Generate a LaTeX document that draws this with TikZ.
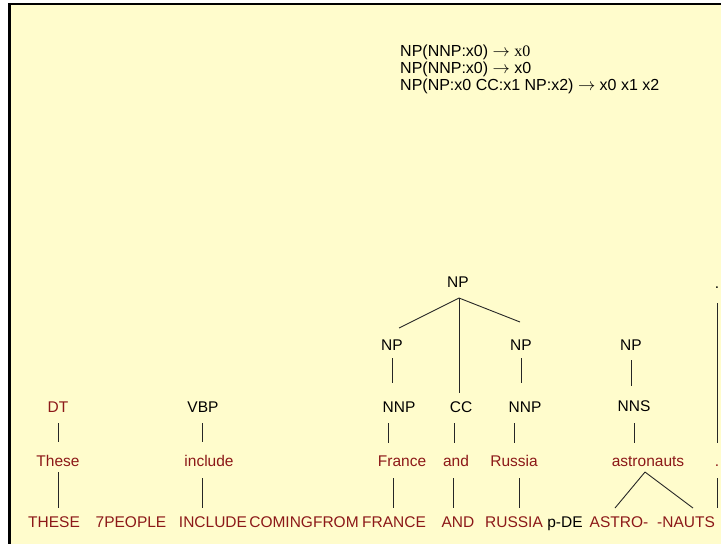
\documentclass[tikz,border=0pt]{standalone}
\usepackage{fontspec}
\setmainfont{Liberation Sans}
\newfontfamily\serifx{Liberation Serif}
\usetikzlibrary{calc}
\definecolor{paper}{RGB}{255,252,204}
\definecolor{wordred}{RGB}{140,24,24}
\begin{document}
\begin{tikzpicture}[x=1pt,y=-1pt,
  lbl/.style={anchor=base,inner sep=0pt,font=\fontsize{15.5}{18}\selectfont},
  tag/.style={lbl,text=black},
  word/.style={lbl,text=wordred},
  rule/.style={anchor=base west,inner sep=0pt,font=\fontsize{16}{18}\selectfont},
  edge/.style={draw=black!85,line width=0.9pt}]
\useasboundingbox (0,0) rectangle (721,544);
\clip (0,0) rectangle (721,544);
\fill[white] (0,0) rectangle (721,544);
\draw[fill=paper,line width=2.6pt] (9.5,4) rectangle (760,580);

% transfer rules
\node[rule] (rule1) at (400,56.5) {NP(NNP:x0) $\rightarrow$ {\serifx x0}};
\node[rule] (rule2) at (400,73) {NP(NNP:x0) $\rightarrow$ x0};
\node[rule] (rule3) at (400,90) {NP(NP:x0 CC:x1 NP:x2) $\rightarrow$ x0 x1 x2};

% phrase structure
\node[tag] (npT) at (458,287.5) {NP};
\node[tag] (npL) at (392,350.5) {NP};
\node[tag] (npR) at (521,350.5) {NP};
\node[tag] (npA) at (631,350) {NP};
\node[tag] (dotT) at (717,288) {.};

% part-of-speech tags
\node[word] (dt) at (58,412.5) {DT};
\node[tag] (vbp) at (203,412.5) {VBP};
\node[tag] (nnpL) at (399,412.5) {NNP};
\node[tag] (cc) at (461,412.5) {CC};
\node[tag] (nnpR) at (525,412.5) {NNP};
\node[tag] (nns) at (634,411.5) {NNS};

% source words
\node[word] (wThese) at (58,466) {These};
\node[word] (wInclude) at (209,466) {include};
\node[word] (wFrance) at (402,466) {France};
\node[word] (wAnd) at (456,466) {and};
\node[word] (wRussia) at (514,466) {Russia};
\node[word] (wAstro) at (648,466) {astronauts};
\node[word] (wDot) at (717,466) {.};

% target tokens
\node[word] (tThese) at (54,527.5) {THESE};
\node[word] (tPeople) at (131,527.5) {7PEOPLE};
\node[word] (tInclude) at (213,527.5) {INCLUDE};
\node[word] (tComing) at (304,527.5) {COMINGFROM};
\node[word] (tFrance) at (394,527.5) {FRANCE};
\node[word] (tAnd) at (458,527.5) {AND};
\node[word] (tRussia) at (514,527.5) {RUSSIA};
\node[tag] (tDe) at (565,527.5) {p-DE};
\node[word] (tAstro) at (619,527.5) {ASTRO-};
\node[word] (tNauts) at (686,527.5) {-NAUTS};
\coordinate (tEnd) at (717,508);

% tree edges
\draw[edge] ($(npT.base)+(1,10.5)$) -- ($(npL.base)+(7,-22.5)$);
\draw[edge] ($(npT.base)+(1,10.5)$) -- ($(cc.base)+(-2,-19.5)$);
\draw[edge] ($(npT.base)+(1,10.5)$) -- ($(npR.base)+(-1,-28.5)$);
\draw[edge] ($(npL.base)+(0,7.5)$) -- ($(nnpL.base)+(-7,-29.5)$);
\draw[edge] ($(npR.base)+(0,7.5)$) -- ($(nnpR.base)+(-4,-29.5)$);
\draw[edge] ($(npA.base)+(0,10)$) -- ($(nns.base)+(-3,-25.5)$);
\draw[edge] ($(dotT.base)+(0,15)$) -- ($(wDot.base)+(0,-23)$);

\draw[edge] ($(dt.base)+(0,10.5)$) -- ($(wThese.base)+(0,-24)$);
\draw[edge] ($(vbp.base)+(-1,10.5)$) -- ($(wInclude.base)+(-7,-24)$);
\draw[edge] ($(nnpL.base)+(-11,10.5)$) -- ($(wFrance.base)+(-14,-23)$);
\draw[edge] ($(cc.base)+(-7,10.5)$) -- ($(wAnd.base)+(-2,-23)$);
\draw[edge] ($(nnpR.base)+(-11,10.5)$) -- ($(wRussia.base)+(0,-23)$);
\draw[edge] ($(nns.base)+(0,11.5)$) -- ($(wAstro.base)+(-14,-23)$);

% alignment edges
\draw[edge] ($(wThese.base)+(0,6)$) -- ($(tThese.base)+(4,-19.5)$);
\draw[edge] ($(wInclude.base)+(-7,12)$) -- ($(tInclude.base)+(-11,-19.5)$);
\draw[edge] ($(wFrance.base)+(-9,12)$) -- ($(tFrance.base)+(-1,-19.5)$);
\draw[edge] ($(wAnd.base)+(-3,12)$) -- ($(tAnd.base)+(-5,-19.5)$);
\draw[edge] ($(wRussia.base)+(5,12)$) -- ($(tRussia.base)+(5,-19.5)$);
\draw[edge] ($(wAstro.base)+(-3,6)$) -- ($(tAstro.base)+(-4,-19.5)$);
\draw[edge] ($(wAstro.base)+(-3,6)$) -- ($(tNauts.base)+(7,-19.5)$);
\draw[edge] ($(wDot.base)+(0,12)$) -- (tEnd);
\end{tikzpicture}
\end{document}
